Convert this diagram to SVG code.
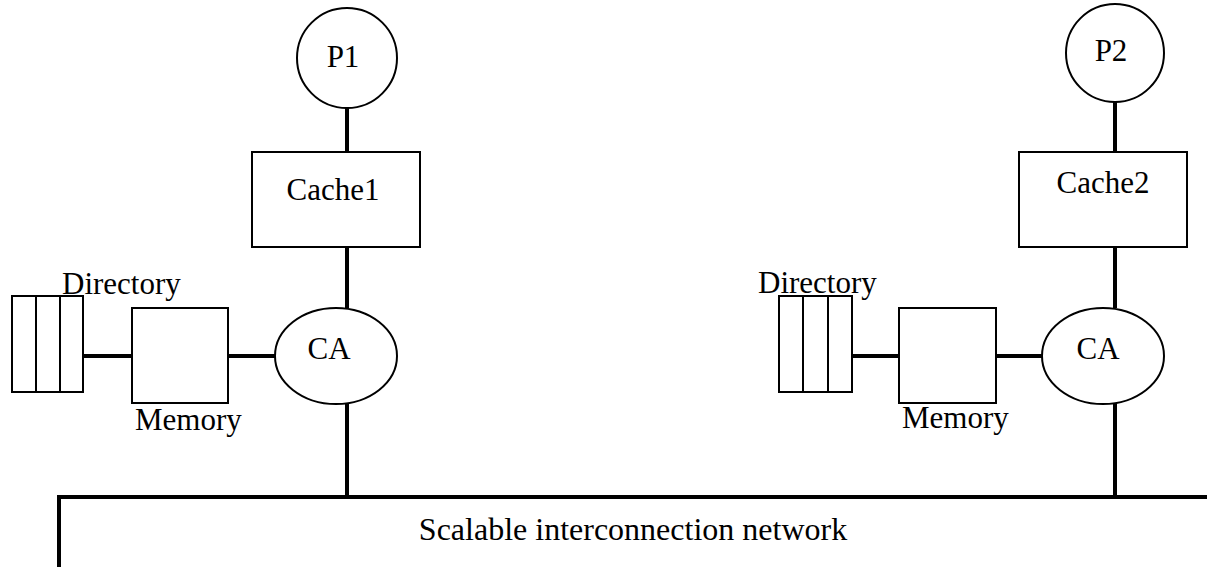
<svg xmlns="http://www.w3.org/2000/svg" width="1207" height="567" viewBox="0 0 1207 567">
  <style>
    .shape { fill: #ffffff; stroke: #000000; stroke-width: 2; }
    .wire { stroke: #000000; stroke-width: 4; fill: none; stroke-linecap: butt; }
    .label { font-family: "Liberation Serif", "Times New Roman", serif; font-size: 31px; fill: #000000; }
    .mid { text-anchor: middle; }
  </style>
  <rect width="1207" height="567" fill="#ffffff"/>

  <!-- connectors -->
  <g id="connectors">
    <!-- node 1 -->
    <line class="wire" x1="347" y1="107" x2="347" y2="152"/>
    <line class="wire" x1="347" y1="247" x2="347" y2="308"/>
    <line class="wire" x1="347" y1="403" x2="347" y2="497"/>
    <line class="wire" x1="83" y1="356" x2="132" y2="356"/>
    <line class="wire" x1="228" y1="356" x2="275" y2="356"/>
    <!-- node 2 -->
    <line class="wire" x1="1115" y1="102" x2="1115" y2="152"/>
    <line class="wire" x1="1115" y1="247" x2="1115" y2="308"/>
    <line class="wire" x1="1115" y1="403" x2="1115" y2="497"/>
    <line class="wire" x1="852" y1="356" x2="899" y2="356"/>
    <line class="wire" x1="996" y1="356" x2="1043" y2="356"/>
    <!-- interconnection bus -->
    <polyline class="wire" points="59,567 59,497 1207,497"/>
  </g>

  <!-- processor 1 -->
  <g id="p1">
    <circle class="shape" cx="347" cy="58" r="50"/>
    <text class="label mid" x="343" y="67">P1</text>
  </g>
  <g id="cache1">
    <rect class="shape" x="252" y="152" width="168" height="95"/>
    <text class="label mid" x="333" y="200">Cache1</text>
  </g>
  <g id="ca1">
    <ellipse class="shape" cx="336" cy="356" rx="61" ry="48"/>
    <text class="label mid" x="329" y="359">CA</text>
  </g>
  <g id="memory1">
    <rect class="shape" x="132" y="308" width="96" height="95"/>
    <text class="label" x="135" y="430">Memory</text>
  </g>
  <g id="directory1">
    <rect class="shape" x="12" y="296" width="71" height="96"/>
    <line class="shape" x1="36" y1="296" x2="36" y2="392"/>
    <line class="shape" x1="60" y1="296" x2="60" y2="392"/>
    <text class="label" x="62" y="294">Directory</text>
  </g>

  <!-- processor 2 -->
  <g id="p2">
    <circle class="shape" cx="1115" cy="53" r="49"/>
    <text class="label mid" x="1111" y="61">P2</text>
  </g>
  <g id="cache2">
    <rect class="shape" x="1019" y="152" width="168" height="95"/>
    <text class="label mid" x="1103" y="193">Cache2</text>
  </g>
  <g id="ca2">
    <ellipse class="shape" cx="1103" cy="356" rx="61" ry="48"/>
    <text class="label mid" x="1098" y="359">CA</text>
  </g>
  <g id="memory2">
    <rect class="shape" x="899" y="308" width="97" height="95"/>
    <text class="label" x="902" y="428">Memory</text>
  </g>
  <g id="directory2">
    <rect class="shape" x="779" y="296" width="73" height="96"/>
    <line class="shape" x1="803" y1="296" x2="803" y2="392"/>
    <line class="shape" x1="828" y1="296" x2="828" y2="392"/>
    <text class="label" x="758" y="293">Directory</text>
  </g>

  <!-- network -->
  <g id="network">
    <text class="label mid" x="633" y="540" style="font-size:32px">Scalable interconnection network</text>
  </g>
</svg>
